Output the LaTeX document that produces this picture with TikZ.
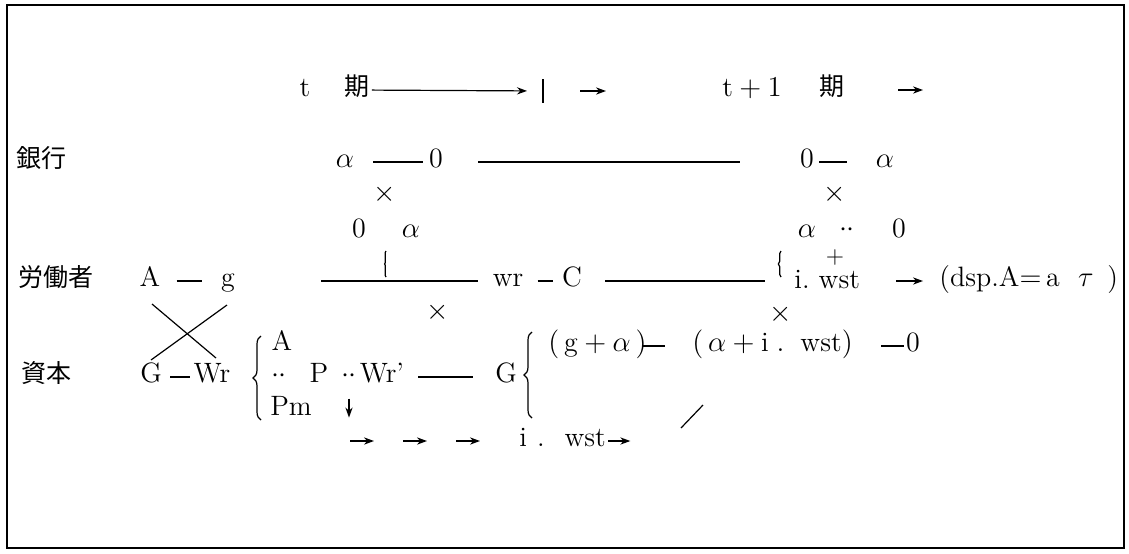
\documentclass[tikz,border=0pt]{standalone}
\usepackage{fontspec}
\newfontfamily\jpfont{Noto Sans CJK JP}
\usetikzlibrary{arrows.meta, positioning, decorations.pathreplacing}

\begin{document}
\begin{tikzpicture}[x=0.5pt, y=-0.5pt, >={Stealth[length=5pt,width=3.6pt]},
  every node/.style={inner sep=1pt, text height=1.5ex, text depth=.25ex, font=\fontsize{14}{17}\selectfont},
  jp/.style={font=\jpfont\fontsize{12.5}{15}\selectfont},
  sym/.style={inner sep=0pt, text height=1ex, text depth=0pt},
  rule/.style={line width=0.6pt},
  curly/.style={line width=0.6pt, decorate, decoration={brace, amplitude=4pt}},
  kink/.style={line width=0.6pt, decorate, decoration={brace, amplitude=#1}}]

\useasboundingbox (0,0) rectangle (1129,553);
\draw[rule] (7,5) rectangle (1124,548);

% Period line
\node (tA) at (305,91) {t};
\node[jp] (kiA) at (357,90) {期};
\coordinate (sepA) at (543,91);
\draw[rule] ([yshift=6pt]sepA) -- ([yshift=-6pt]sepA);
\draw[rule,->,shorten >=8pt] (kiA) -- (sepA);
\coordinate (nxA) at (580,91);
\coordinate (nxB) at (606,91);
\draw[rule,->] (nxA) -- (nxB);
\node (tB) at (752,91) {$\mathrm{t}+1$};
\node[jp] (kiB) at (832,90) {期};
\coordinate (nxC) at (898,90);
\coordinate (nxD) at (923,90);
\draw[rule,->] (nxC) -- (nxD);

% Bank
\node[jp] (bank) at (42,162) {銀行};
\node (aA) at (345,162) {$\alpha$};
\node (zA) at (436,162) {0};
\node (zB) at (807,162) {0};
\node (aB) at (885,162) {$\alpha$};
\draw[rule,shorten <=8.5pt,shorten >=2pt] (aA) -- (zA);
\draw[rule,shorten <=16.5pt,shorten >=29pt] (zA) -- (zB);
\draw[rule,shorten <=1.5pt,shorten >=13.5pt] (zB) -- (aB);

\node (xA) at (385,196) {$\times$};
\node (xB) at (835,196) {$\times$};
\node (zC) at (359,232) {0};
\node (aC) at (411,232) {$\alpha$};
\node (aD) at (807,232) {$\alpha$};
\node[sym] (dD) at (847,232) {$\cdot\cdot$};
\node (zD) at (899,232) {0};

\coordinate (kA) at (386,264);
\draw[kink=0.7pt] ([yshift=-6.5pt]kA) -- ([yshift=6.5pt]kA);
\coordinate (kB) at (781,264);
\draw[kink=1.3pt] ([yshift=-6.5pt]kB) -- ([yshift=6.5pt]kB);
\node[sym,font=\fontsize{13}{15}\selectfont] (plusB) at (835,259) {$+$};

% Worker
\node[jp] (worker) at (56,281) {労働者};
\node (wA) at (150,281) {A};
\node (wg) at (228,281) {g};
\draw[rule,shorten <=7pt,shorten >=8.5pt] (wA) -- (wg);
\node (wr) at (508,281) {wr};
\node (wC) at (572,281) {C};
\node[anchor=west,inner sep=0pt] (wst) at (794,283) {i.\ wst};
\node[anchor=west] (dsp) at (937,281) {(dsp.A$=$\,a\ \ $\tau$\ \,)};
\draw[rule,shorten <=42pt,shorten >=6pt] (wg) -- (wr);
\draw[rule,shorten <=6pt,shorten >=3.5pt] (wr) -- (wC);
\draw[rule,shorten <=10.5pt,shorten >=14.5pt] (wC) -- (wst.west |- wC);
\draw[rule,->,shorten <=18pt,shorten >=7pt] (wst.east |- dsp) -- (dsp);

\node (xC) at (438,314) {$\times$};
\node (xD) at (781,316) {$\times$};

\coordinate (crA) at (152,304);
\coordinate (crB) at (216,358);
\coordinate (crC) at (227,305);
\coordinate (crD) at (151,360);
\draw[rule] (crA) -- (crB);
\draw[rule] (crC) -- (crD);

% Capital
\node[jp] (capital) at (46,377) {資本};
\node (cG) at (151,377) {G};
\node (cWr) at (212,377) {Wr};
\draw[rule,shorten <=3pt,shorten >=0.5pt] (cG) -- (cWr);
\coordinate (brA) at (261,378);
\draw[curly] ([yshift=-21pt]brA) -- ([yshift=21pt]brA);
\node (cA) at (282,345) {A};
\node[sym] (cdA) at (279,378) {$\cdot\cdot$};
\node (cP) at (319,377) {P};
\node[sym] (cdB) at (349,378) {$\cdot\cdot$};
\node (cWrB) at (382,377) {Wr'};
\node (cGB) at (506,377) {G};
\draw[rule,shorten <=6pt,shorten >=10pt] (cWrB) -- (cGB);
\node (cPm) at (291,410) {Pm};
\draw[rule,->,shorten <=8pt,shorten >=1.2pt] (cdB) -- (cdB |- cPm.south);

\coordinate (brB) at (532,375);
\draw[curly] ([yshift=-21.5pt]brB) -- ([yshift=21.5pt]brB);
\node[anchor=west] (gA) at (546,346) {$(\,\mathrm{g}+\alpha\,)$};
\node[anchor=west] (gB) at (690,346) {$(\,\alpha+\mathrm{i}\;.\;\;\mathrm{wst})$};
\node (gC) at (913,346) {0};
\draw[rule,shorten <=-3pt,shorten >=12.5pt] (gA) -- (gB);
\draw[rule,shorten <=13pt] (gB) -- (gC);

\coordinate (slA) at (681,428);
\coordinate (slB) at (703,405);
\draw[rule] (slA) -- (slB);

% Flow to interest
\foreach \x [count=\i] in {350,403,456} {
  \coordinate (fl\i) at (\x,441);
  \draw[rule,->] (fl\i) -- ([xshift=12pt]fl\i);
}
\node[anchor=west] (fwst) at (517,441) {i\hspace{5pt}.\hspace{10pt}wst};
\draw[rule,->] (fwst) -- ([xshift=11pt]fwst.east);

\end{tikzpicture}
\end{document}
